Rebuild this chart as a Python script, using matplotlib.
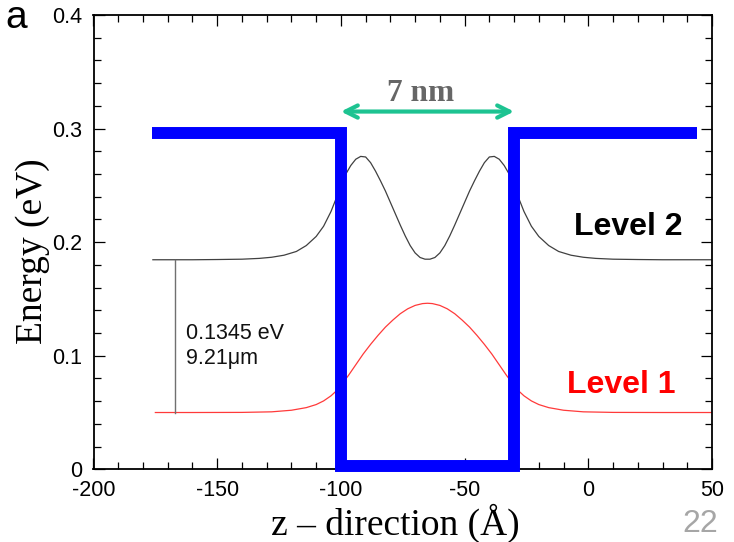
import numpy as np
import matplotlib
matplotlib.use("Agg")
import matplotlib.pyplot as plt
from matplotlib.ticker import MultipleLocator

plt.rcParams['axes.unicode_minus'] = False

# quantum well profile (Angstrom, eV)
well_x = [-176.5, -100, -100, -30, -30, 44]
well_y = [0.296, 0.296, 0.003, 0.003, 0.296, 0.296]

# level 2 : energy + |psi|^2
lev2_x = [-176, -160, -150, -140, -133, -128, -123, -118, -114, -110, -107, -104, -102, -100,
          -98, -96, -94, -92, -90, -88, -86, -84, -82, -80, -78, -76, -74, -72, -70, -68, -66,
          -64, -62, -60, -58, -56, -54, -52, -50, -48, -46, -44, -42, -40, -38, -36, -34, -32, -30,
          -28, -26, -23, -20, -16, -12, -7, -2, 3, 10, 20, 30, 50]
lev2_y = [0.1845, 0.1845, 0.1847, 0.1850, 0.1857, 0.1867, 0.1885, 0.1918, 0.1970, 0.2050, 0.2140, 0.2270, 0.2380, 0.2510,
          0.2600, 0.2675, 0.2730, 0.2755, 0.2750, 0.2700, 0.2625, 0.2540, 0.2450, 0.2350, 0.2250, 0.2150, 0.2055, 0.1970, 0.1905, 0.1865, 0.1850,
          0.1850, 0.1865, 0.1905, 0.1970, 0.2055, 0.2150, 0.2250, 0.2350, 0.2450, 0.2540, 0.2625, 0.2700, 0.2750, 0.2755, 0.2730, 0.2675, 0.2600, 0.2510,
          0.2380, 0.2270, 0.2140, 0.2050, 0.1970, 0.1918, 0.1885, 0.1867, 0.1857, 0.1850, 0.1847, 0.1845, 0.1845]

# level 1 : energy + |psi|^2
lev1_x = [-175, -160, -140, -128, -120, -114, -110, -107, -104, -102, -100,
          -97, -94, -91, -88, -85, -82, -79, -76, -73, -70, -67, -65,
          -63, -60, -57, -54, -51, -48, -45, -42, -39, -36, -33, -30,
          -28, -26, -23, -20, -16, -10, -2, 10, 30, 50]
lev1_y = [0.0500, 0.0500, 0.0501, 0.0506, 0.0520, 0.0543, 0.0570, 0.0602, 0.0647, 0.0687, 0.0740,
          0.0825, 0.0920, 0.1015, 0.1100, 0.1179, 0.1252, 0.1314, 0.1370, 0.1413, 0.1443, 0.1459, 0.1462,
          0.1459, 0.1443, 0.1413, 0.1370, 0.1314, 0.1252, 0.1179, 0.1100, 0.1015, 0.0920, 0.0825, 0.0740,
          0.0687, 0.0647, 0.0602, 0.0570, 0.0543, 0.0520, 0.0506, 0.0501, 0.0500, 0.0500]

E1 = 0.0500
E2 = 0.1845
gap_x = -167

fig = plt.figure(figsize=(7.34, 5.42), dpi=100)
ax = fig.add_axes([93.5/734, 1-469.3/542, (712-93.5)/734, (469.3-15)/542])

ax.plot(lev2_x, lev2_y, color='#404040', lw=0.9, zorder=2)
ax.plot(lev1_x, lev1_y, color='#ff3a3a', lw=0.9, zorder=2)
ax.plot([gap_x, gap_x], [E1, E2], color='#707070', lw=1.0, zorder=2)
ax.plot(well_x, well_y, color='#0000ff', lw=8.6, solid_joinstyle='miter',
        solid_capstyle='butt', zorder=3, clip_on=False)

# well width arrow
ax.annotate('', xy=(-100, 0.315), xytext=(-30, 0.315),
            arrowprops=dict(arrowstyle='<->', color='#1dc391', lw=3,
                            mutation_scale=22, shrinkA=0, shrinkB=0))
ax.text(-67.8, 0.331, '7 nm', family='Liberation Serif', weight='bold',
        fontsize=22.5, color='#666666', ha='center', va='center')

ax.text(-162.7, 0.1086, '0.1345 eV\n9.21\u03bcm', family='Liberation Sans',
        fontsize=15.5, color='#111111', ha='left', va='center', linespacing=1.25)
ax.text(16, 0.2133, 'Level 2', family='Liberation Sans', weight='bold',
        fontsize=23, color='black', ha='center', va='center')
ax.text(13.4, 0.0743, 'Level 1', family='Liberation Sans', weight='bold',
        fontsize=23, color='#ff0000', ha='center', va='center')

ax.set_xlim(-200, 50)
ax.set_ylim(0, 0.4)
ax.xaxis.set_major_locator(MultipleLocator(50))
ax.xaxis.set_minor_locator(MultipleLocator(10))
ax.yaxis.set_major_locator(MultipleLocator(0.1))
ax.yaxis.set_minor_locator(MultipleLocator(0.02))
ax.set_yticks([0, 0.1, 0.2, 0.3, 0.4])
ax.set_yticklabels(['0', '0.1', '0.2', '0.3', '0.4'])
ax.tick_params(which='both', direction='in', top=True, right=True, width=0.9,
               labelsize=15.5, colors='black')
ax.tick_params(which='major', length=8, pad=8)
ax.tick_params(which='minor', length=5)
for lab in ax.get_xticklabels() + ax.get_yticklabels():
    lab.set_family('Liberation Sans')
for sp in ax.spines.values():
    sp.set_linewidth(1.3)

fig.text(33/734, 1-251/542, 'Energy (eV)', family='Liberation Serif',
         fontsize=27, rotation=90, ha='center', va='center')
fig.text(395/734, 1-523/542, 'z \u2013 direction (\u00c5)', family='Liberation Serif',
         fontsize=27, ha='center', va='center')
fig.text(16/734, 1-28/542, 'a', family='Liberation Sans', fontsize=28,
         ha='center', va='baseline')
fig.text(700/734, 1-524/542, '22', family='Liberation Sans', fontsize=23,
         color='#a6a6a6', ha='center', va='center')

fig.savefig('out.png', dpi=100)
